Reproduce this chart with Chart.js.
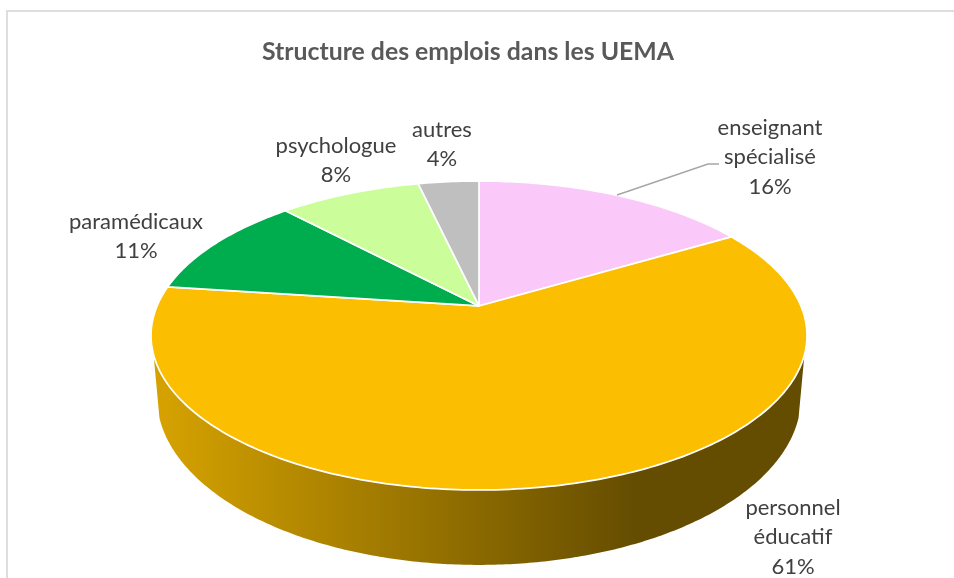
<!DOCTYPE html>
<html lang="fr">
<head>
<meta charset="utf-8">
<title>Structure des emplois dans les UEMA</title>
<script src="https://cdn.jsdelivr.net/npm/chart.js@4/dist/chart.umd.min.js"></script>
<style>
html,body{margin:0;padding:0;background:#fff;width:954px;height:578px;overflow:hidden}
#frame{position:absolute;left:6px;top:10px;width:960px;height:580px;border-left:2px solid #dedede;border-top:2px solid #dedede;box-sizing:border-box}
canvas{position:absolute;left:0;top:0}
</style>
</head>
<body>
<div id="frame"></div>
<canvas id="c" width="936" height="578" style="width:936px;height:578px"></canvas>
<script>
const chartTitle = 'Structure des emplois dans les UEMA';
const categories = ['enseignant spécialisé', 'personnel éducatif', 'paramédicaux', 'psychologue', 'autres'];
const labelLines = [['enseignant', 'spécialisé'], ['personnel', 'éducatif'], ['paramédicaux'], ['psychologue'], ['autres']];
const shares = [16.49, 60.61, 10.9, 8.4, 3.6];
const sliceColors = ['#FAC9FA', '#FBBE00', '#00AD4E', '#CBFD9B', '#BFBFBF'];

// layout of the labels (centre x, first line y) and of the leader line
const labelAnchors = [[770, 128], [793, 508], [136, 222], [336, 146], [442, 130]];
const leaderLine = [[617, 195], [708, 164], [719, 164]];
const lineStep = 29.3;
const pieShiftRight = 22;
const FONT = 'Lato, "Open Sans", sans-serif';

// perspective of the 3D pie
const tilt = { apexShift: -0.191, ryRatio: 0.471, wallDy: 91, wallRx: 0.982, wallRy: 0.512, wallFrom: 0.126 };
const wallShade = [[165, 0.845], [640, 0.40]];

function project(cx, cy, r, a) {
  const k = tilt.apexShift, s = Math.sqrt(1 - k * k);
  const x = Math.cos(a), y = Math.sin(a), d = 1 + k * y;
  const ry = r * tilt.ryRatio;
  return [cx + r * x * s / d, cy - k * ry + ry * (y + k) / d];
}
function rimAngle(phi) {           // ellipse angle -> angle on the pie
  const k = tilt.apexShift, s = Math.sqrt(1 - k * k);
  const xp = Math.cos(phi), yp = Math.sin(phi), d = 1 - k * yp;
  let a = Math.atan2((yp - k) / d, xp * s / d);
  if (a < -Math.PI / 2) a += 2 * Math.PI;
  return a;
}

// Arcs keep their Chart.js angles and radius; only the path goes through the perspective.
Chart.ArcElement.prototype.draw = function (ctx) {
  const o = this.options, n = Math.max(4, Math.ceil((this.endAngle - this.startAngle) * 60));
  ctx.save();
  ctx.beginPath();
  ctx.moveTo(this.x, this.y);
  for (let i = 0; i <= n; i++) {
    ctx.lineTo(...project(this.x, this.y, this.outerRadius, this.startAngle + (this.endAngle - this.startAngle) * i / n));
  }
  ctx.closePath();
  ctx.fillStyle = o.backgroundColor;
  ctx.fill();
  ctx.lineWidth = o.borderWidth;
  ctx.strokeStyle = o.borderColor;
  ctx.lineJoin = 'round';
  ctx.stroke();
  ctx.restore();
};

function shade(hex, f) {
  const v = parseInt(hex.slice(1), 16);
  return `rgb(${(v >> 16 & 255) * f},${(v >> 8 & 255) * f},${(v & 255) * f})`;
}

const shiftPlugin = {
  id: 'shiftPie',
  afterLayout(chart) { chart.chartArea.left += pieShiftRight; chart.chartArea.width -= pieShiftRight; }
};

const wallPlugin = {
  id: 'wall',
  beforeDatasetsDraw(chart) {
    const { ctx } = chart;
    chart.getDatasetMeta(0).data.forEach((arc, idx) => {
      const r = arc.outerRadius, cx = arc.x, cy = arc.y, ry = r * tilt.ryRatio;
      const top = [], low = [];
      for (let i = 0; i <= 240; i++) {
        const phi = tilt.wallFrom + (Math.PI - 2 * tilt.wallFrom) * i / 240;
        const a = rimAngle(phi);
        if (a < arc.startAngle || a > arc.endAngle) continue;
        top.push([cx + r * Math.cos(phi), cy - tilt.apexShift * ry + ry * Math.sin(phi)]);
        low.push([cx + r * tilt.wallRx * Math.cos(phi), cy + tilt.wallDy + r * tilt.wallRy * Math.sin(phi)]);
      }
      if (!top.length) return;
      const g = ctx.createLinearGradient(wallShade[0][0], 0, wallShade[1][0], 0);
      g.addColorStop(0, shade(sliceColors[idx], wallShade[0][1]));
      g.addColorStop(1, shade(sliceColors[idx], wallShade[1][1]));
      ctx.save();
      ctx.beginPath();
      top.forEach((p, i) => i ? ctx.lineTo(p[0], p[1]) : ctx.moveTo(p[0], p[1]));
      low.reverse().forEach(p => ctx.lineTo(p[0], p[1]));
      ctx.closePath();
      ctx.fillStyle = g;
      ctx.fill();
      ctx.restore();
    });
  }
};

const labelPlugin = {
  id: 'sliceLabels',
  afterDatasetsDraw(chart) {
    const { ctx } = chart;
    ctx.save();
    ctx.strokeStyle = '#A6A6A6';
    ctx.lineWidth = 1.5;
    ctx.beginPath();
    leaderLine.forEach((p, i) => i ? ctx.lineTo(p[0], p[1]) : ctx.moveTo(p[0], p[1]));
    ctx.stroke();
    ctx.font = '22px ' + FONT;
    ctx.fillStyle = '#404040';
    ctx.textAlign = 'center';
    ctx.textBaseline = 'middle';
    labelLines.forEach((lines, i) => {
      const all = lines.concat(Math.round(shares[i]) + '%');
      all.forEach((t, j) => ctx.fillText(t, labelAnchors[i][0], labelAnchors[i][1] + j * lineStep));
    });
    ctx.restore();
  }
};

new Chart(document.getElementById('c'), {
  type: 'pie',
  data: {
    labels: categories,
    datasets: [{
      data: shares,
      backgroundColor: sliceColors,
      borderColor: '#FFFFFF',
      borderWidth: 1.75,
      radius: 328
    }]
  },
  options: {
    responsive: false,
    animation: false,
    layout: { padding: { left: 0, right: 0, top: 0, bottom: 41 } },
    plugins: {
      legend: { display: false },
      tooltip: { enabled: false },
      title: {
        display: true,
        text: chartTitle,
        color: '#595959',
        font: { family: FONT, size: 24.8, weight: 'bold', lineHeight: 1.2 },
        padding: { top: 37, bottom: 8.2 }
      }
    }
  },
  plugins: [shiftPlugin, wallPlugin, labelPlugin]
});
</script>
</body>
</html>
